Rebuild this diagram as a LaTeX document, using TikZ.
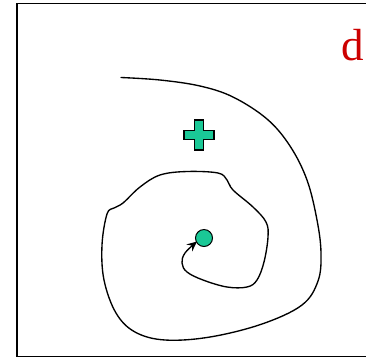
\documentclass[tikz,border=0pt]{standalone}
\usepackage{fontspec}
\setmainfont{Liberation Serif}
\usetikzlibrary{arrows.meta}
\definecolor{teal1}{RGB}{26,200,150}
\definecolor{dred}{RGB}{204,0,0}
\tikzset{
  frame/.style={draw=black, line width=1.8pt},
  spiral/.style={draw=black, line width=1.35pt, line cap=round},
  dot/.style={circle, draw=black, fill=teal1, line width=1pt, minimum size=17pt, inner sep=0pt},
  cross/.style={draw=black, fill=teal1, line width=1.3pt, line join=miter},
  lbl/.style={text=dred, font=\fontsize{45}{48}\selectfont, inner sep=0pt, anchor=base west}
}
\begin{document}
\begin{tikzpicture}[x=1pt,y=-1pt]
\useasboundingbox (0,0) rectangle (366,360);
\draw[frame] (17,3.5) -- (372,3.5) -- (372,356.5) -- (17,356.5) -- cycle;
\node[lbl] (d) at (341,60) {d};
% plus sign
\path[cross] (194.5,120) -- (203.5,120) -- (203.5,130.5) -- (214,130.5) -- (214,139.5) -- (203.5,139.5) -- (203.5,150) -- (194.5,150) -- (194.5,139.5) -- (184,139.5) -- (184,130.5) -- (194.5,130.5) -- cycle;
\node[dot] (c) at (204,238) {};
\coordinate (s) at (121,77.5);
\coordinate (e) at (197,241.5);
\draw[spiral, -{Stealth[length=10pt,width=9pt,inset=3.5pt]}] plot[smooth, tension=0.6] coordinates {
(s) (160,80) (200,86) (233,97) (267,119) (290,146) (307,180) (317,220) (321,253) (318,281) (302,305) (262,324) (210,337) (165,340) (135,332) (116,313) (104,280) (102,245) (107,214) (114,208) (123,203) (140,187) (160,175) (187,171.5) (218,173) (227,180) (233,190) (253,207) (266,222) (268,237) (264,262) (257,280) (247,287) (227,287) (203,280) (187,272) (182,263) (185,253) (e)};
\end{tikzpicture}
\end{document}
